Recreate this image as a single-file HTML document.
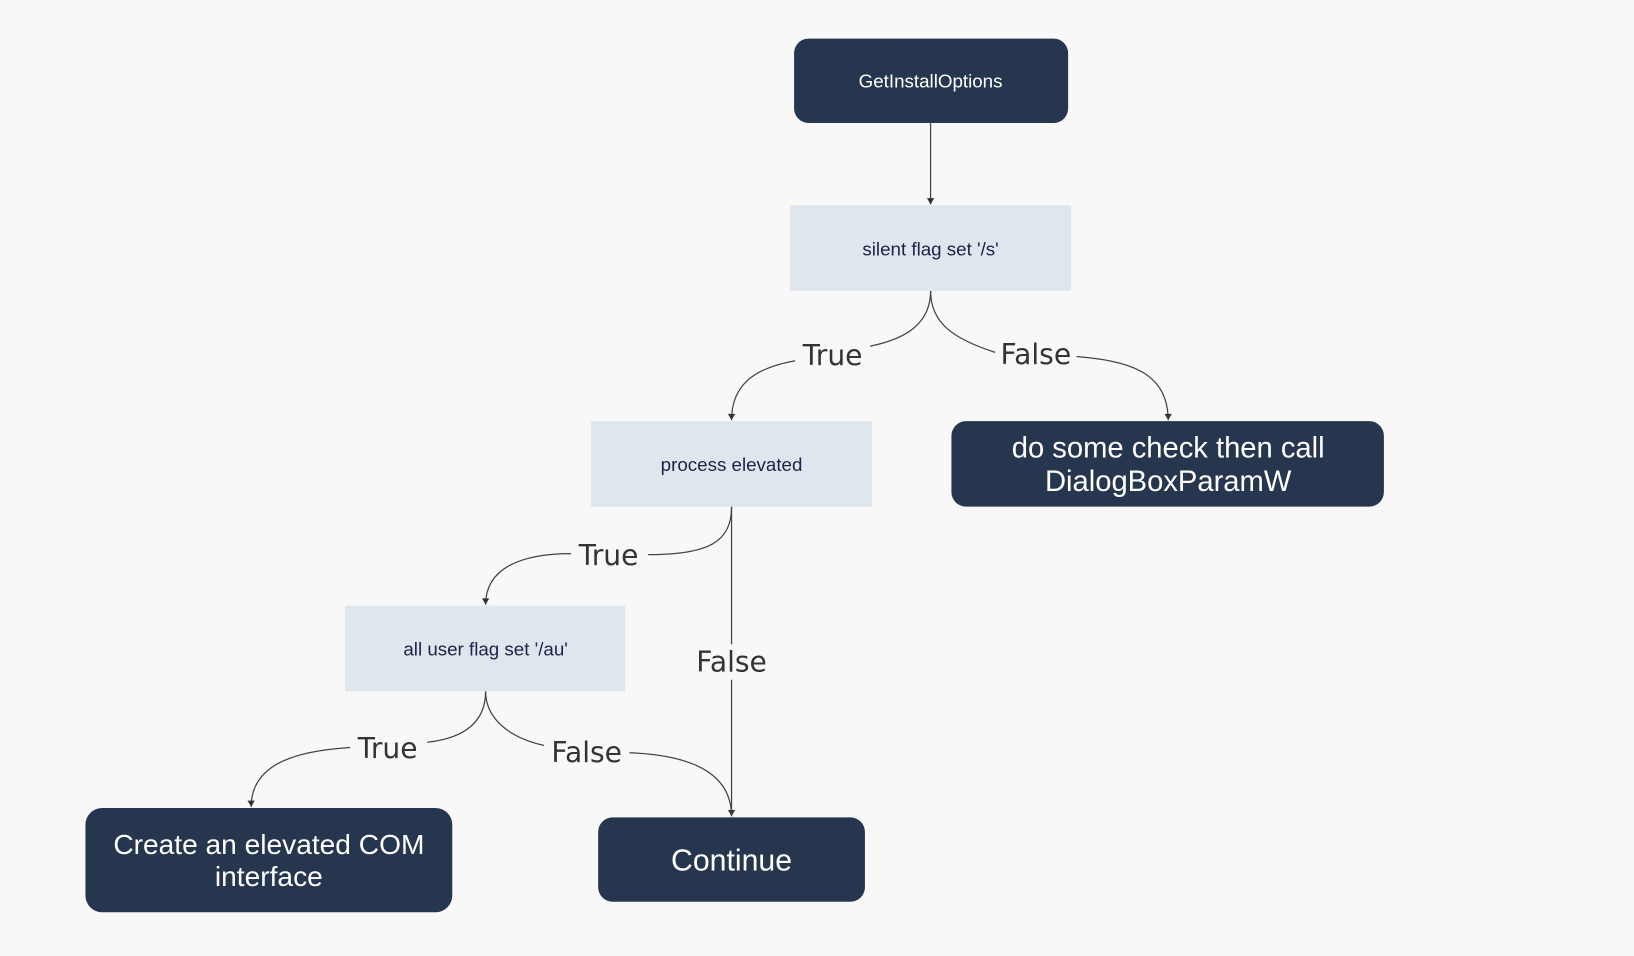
<!DOCTYPE html>
<html><head><meta charset="utf-8"><style>
html,body{margin:0;padding:0;background:#f8f8f9;}
svg{display:block;}
</style></head><body>
<svg width="1634" height="956" viewBox="0 0 1568 917" preserveAspectRatio="none" xmlns="http://www.w3.org/2000/svg">
<defs><marker id="a" markerWidth="8" markerHeight="8" refX="4" refY="7" orient="auto" markerUnits="userSpaceOnUse"><path d="M0.5,1 L4,7 L7.5,1 Z" fill="#333"/></marker>
<marker id="ad" markerWidth="8" markerHeight="8" refX="7" refY="4" orient="auto" markerUnits="userSpaceOnUse"><path d="M1,0.5 L7,4 L1,7.5 Z" fill="#333"/></marker></defs>
<rect width="1568" height="917" fill="#f8f8f9"/>
<g fill="none" stroke="#444" stroke-width="1.2">
<path d="M893 118 L893 196" marker-end="url(#ad)"/>
<path d="M893 279 C893 310 870 325 835 332"/>
<path d="M763 346 C730 352 702 365 702 403" marker-end="url(#ad)"/>
<path d="M893 279 C893 310 915 325 955 338"/>
<path d="M1033 342 C1080 346 1121 355 1121 403" marker-end="url(#ad)"/>
<path d="M702 486 C702 520 680 532 622 532"/>
<path d="M548 531 C500 531 466 545 466 580" marker-end="url(#ad)"/>
<path d="M702 486 L702 618"/>
<path d="M702 652 L702 783" marker-end="url(#ad)"/>
<path d="M466 663 C466 693 445 708 410 712"/>
<path d="M336 717 C290 720 241 730 241 774" marker-end="url(#ad)"/>
<path d="M466 663 C466 690 490 708 522 715"/>
<path d="M604 722 C660 724 702 740 702 783"/>
</g>
<g font-family="'DejaVu Sans','Liberation Sans',sans-serif" font-size="27" fill="#333" text-anchor="middle">
<text x="799" y="350">True</text>
<text x="994" y="349">False</text>
<text x="584" y="542">True</text>
<text x="702" y="644">False</text>
<text x="372" y="727">True</text>
<text x="563" y="731">False</text>
</g>
<rect x="762" y="37" width="263" height="81" rx="14" fill="#26364f"/>
<rect x="758" y="197" width="270" height="82" fill="#dfe6ee"/>
<rect x="567" y="404" width="270" height="82" fill="#dfe6ee"/>
<rect x="913" y="404" width="415" height="82" rx="14" fill="#26364f"/>
<rect x="331" y="581" width="269" height="82" fill="#dfe6ee"/>
<rect x="82" y="775" width="352" height="100" rx="16" fill="#26364f"/>
<rect x="574" y="784" width="256" height="81" rx="14" fill="#26364f"/>
<g font-family="'Liberation Sans',Arial,sans-serif" text-anchor="middle">
<text x="893" y="84" font-size="18" fill="#fff">GetInstallOptions</text>
<text x="893" y="245" font-size="18" fill="#1a2448">silent flag set '/s'</text>
<text x="702" y="452" font-size="18" fill="#1a2448">process elevated</text>
<text x="466" y="629" font-size="18" fill="#1a2448">all user flag set '/au'</text>
<text x="1121" y="439" font-size="28" fill="#fff">do some check then call</text>
<text x="1121" y="471" font-size="28" fill="#fff">DialogBoxParamW</text>
<text x="258" y="819" font-size="27" fill="#fff">Create an elevated COM</text>
<text x="258" y="850" font-size="27" fill="#fff">interface</text>
<text x="702" y="835" font-size="29" fill="#fff">Continue</text>
</g>
</svg>
</body></html>
